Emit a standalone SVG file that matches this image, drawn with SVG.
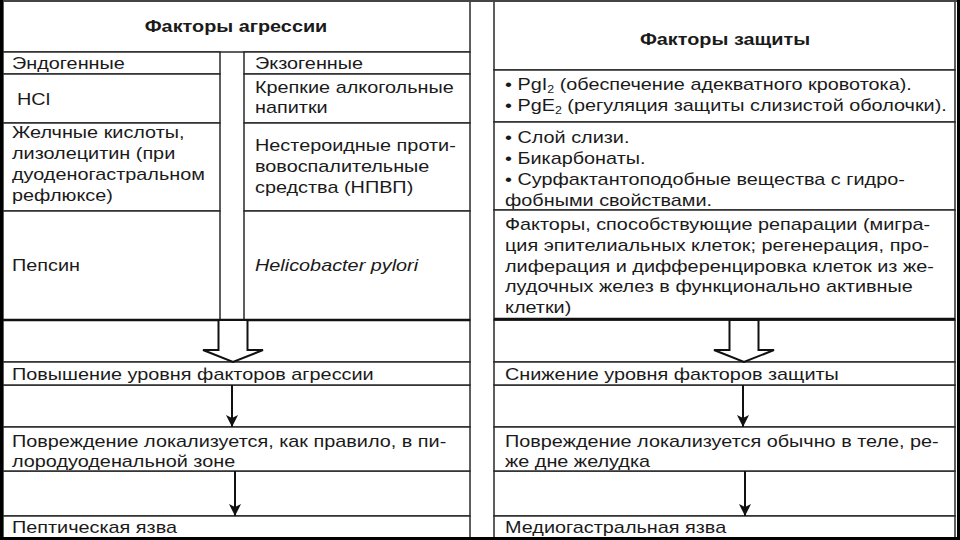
<svg xmlns="http://www.w3.org/2000/svg" width="960" height="540" viewBox="0 0 960 540">
<defs>
<style>
.cell{fill:#fff;stroke:#2a2a2a;stroke-width:1.5}
.grid{fill:#fff;stroke:#2a2a2a;stroke-width:1.5}
text{font-family:"Liberation Sans",Arial,sans-serif;font-size:16px;fill:#1a1a1a}
.b{font-weight:bold}
.i{font-style:italic}
.sub{font-size:10px}
.conn{stroke:#111;stroke-width:2;fill:none}
.hollow{fill:#fff;stroke:#111;stroke-width:2;stroke-linejoin:miter}
</style>
<marker id="ah" viewBox="0 0 12 12" refX="12" refY="6" markerWidth="12" markerHeight="12" markerUnits="userSpaceOnUse" orient="auto">
<path d="M0,0 L12,6 L0,12 L3,6 z" fill="#111"/>
</marker>
<path id="hollowArrow" d="M-14.5,0 L14.5,0 L14.5,30 L30,30 L0,42 L-30,30 L-14.5,30 Z"/>
</defs>
<rect x="0" y="0" width="960" height="540" fill="#fff"/>

<!-- Left table grid -->
<g id="left-grid">
<rect class="grid" x="3" y="320" width="467" height="42"/>
<rect class="grid" x="3" y="385" width="467" height="42"/>
<rect class="grid" x="3" y="471" width="467" height="45"/>
</g>
<!-- Right table grid -->
<g id="right-grid">
<rect class="grid" x="494" y="320" width="461" height="42"/>
<rect class="grid" x="494" y="385" width="461" height="42"/>
<rect class="grid" x="494" y="471" width="461" height="45"/>
</g>

<g id="agg-header"><rect class="cell" x="3" y="1" width="467" height="51"/>
<text class="b" text-anchor="middle" transform="translate(236 32) scale(1.24 1)">Факторы агрессии</text></g>
<g id="endo-label"><rect class="cell" x="3" y="52" width="217" height="22"/>
<text transform="translate(12 69) scale(1.24 1)">Эндогенные</text></g>
<g id="exo-label"><rect class="cell" x="244" y="52" width="226" height="22"/>
<text transform="translate(255 69) scale(1.24 1)">Экзогенные</text></g>
<g id="hcl"><rect class="cell" x="3" y="74" width="217" height="49"/>
<text transform="translate(17 105) scale(1.24 1)">HCl</text></g>
<g id="alcohol"><rect class="cell" x="244" y="74" width="226" height="49"/>
<text transform="translate(255 93) scale(1.24 1)">Крепкие алкогольные<tspan x="0" dy="20.5">напитки</tspan></text></g>
<g id="bile"><rect class="cell" x="3" y="123" width="217" height="88"/>
<text transform="translate(12 138) scale(1.24 1)">Желчные кислоты,<tspan x="0" dy="21">лизолецитин (при</tspan><tspan x="0" dy="21">дуоденогастральном</tspan><tspan x="0" dy="21">рефлюксе)</tspan></text></g>
<g id="nsaid"><rect class="cell" x="244" y="123" width="226" height="88"/>
<text transform="translate(255 151) scale(1.24 1)">Нестероидные проти-<tspan x="0" dy="21">вовоспалительные</tspan><tspan x="0" dy="21">средства (НПВП)</tspan></text></g>
<g id="pepsin"><rect class="cell" x="3" y="211" width="217" height="109"/>
<text transform="translate(12 271) scale(1.24 1)">Пепсин</text></g>
<g id="hpylori"><rect class="cell" x="244" y="211" width="226" height="109"/>
<text class="i" transform="translate(255 271) scale(1.24 1)">Helicobacter pylori</text></g>
<g id="agg-increase"><rect class="cell" x="3" y="362" width="467" height="23"/>
<text transform="translate(12 380) scale(1.24 1)">Повышение уровня факторов агрессии</text></g>
<g id="agg-damage"><rect class="cell" x="3" y="427" width="467" height="44"/>
<text transform="translate(12 447) scale(1.24 1)">Повреждение локализуется, как правило, в пи-<tspan x="0" dy="20">лородуоденальной зоне</tspan></text></g>
<g id="peptic-ulcer"><rect class="cell" x="3" y="516" width="467" height="23"/>
<text transform="translate(12 533) scale(1.24 1)">Пептическая язва</text></g>

<g id="def-header"><rect class="cell" x="494" y="1" width="461" height="69"/>
<text class="b" text-anchor="middle" transform="translate(725 45) scale(1.24 1)">Факторы защиты</text></g>
<g id="prostaglandins"><rect class="cell" x="494" y="70" width="461" height="52"/>
<text transform="translate(505 90) scale(1.24 1)">• PgI<tspan class="sub" dy="3">2</tspan><tspan dy="-3"> (обеспечение адекватного кровотока).</tspan><tspan x="0" dy="21">• PgE</tspan><tspan class="sub" dy="3">2</tspan><tspan dy="-3"> (регуляция защиты слизистой оболочки).</tspan></text></g>
<g id="mucus"><rect class="cell" x="494" y="122" width="461" height="88"/>
<text transform="translate(505 143) scale(1.24 1)">• Слой слизи.<tspan x="0" dy="21">• Бикарбонаты.</tspan><tspan x="0" dy="21">• Сурфактантоподобные вещества с гидро-</tspan><tspan x="0" dy="21">фобными свойствами.</tspan></text></g>
<g id="repair"><rect class="cell" x="494" y="210" width="461" height="110"/>
<text transform="translate(505 230) scale(1.24 1)">Факторы, способствующие репарации (мигра-<tspan x="0" dy="20.8">ция эпителиальных клеток; регенерация, про-</tspan><tspan x="0" dy="20.8">лиферация и дифференцировка клеток из же-</tspan><tspan x="0" dy="20.8">лудочных желез в функционально активные</tspan><tspan x="0" dy="20.8">клетки)</tspan></text></g>
<g id="def-decrease"><rect class="cell" x="494" y="362" width="461" height="23"/>
<text transform="translate(505 380) scale(1.24 1)">Снижение уровня факторов защиты</text></g>
<g id="def-damage"><rect class="cell" x="494" y="427" width="461" height="44"/>
<text transform="translate(505 447) scale(1.24 1)">Повреждение локализуется обычно в теле, ре-<tspan x="0" dy="20">же дне желудка</tspan></text></g>
<g id="medio-ulcer"><rect class="cell" x="494" y="516" width="461" height="23"/>
<text transform="translate(505 533) scale(1.24 1)">Медиогастральная язва</text></g>

<g id="connectors">
<line x1="3" y1="320" x2="470" y2="320" stroke="#111" stroke-width="2.5"/>
<line x1="494" y1="319" x2="955" y2="319" stroke="#111" stroke-width="2.5"/>
<use href="#hollowArrow" class="hollow" transform="translate(233 320)"/>
<use href="#hollowArrow" class="hollow" transform="translate(744 320)"/>
<line class="conn" x1="232" y1="385" x2="232" y2="427" marker-end="url(#ah)"/>
<line class="conn" x1="235" y1="471" x2="235" y2="516" marker-end="url(#ah)"/>
<line class="conn" x1="743" y1="385" x2="743" y2="427" marker-end="url(#ah)"/>
<line class="conn" x1="745" y1="471" x2="745" y2="516" marker-end="url(#ah)"/>
</g>

<g id="frame">
<rect x="0" y="0" width="960" height="2" fill="#444"/>
<rect x="0" y="0" width="3" height="540" fill="#000"/>
<rect x="0" y="537" width="960" height="3" fill="#000"/>
<rect x="957" y="0" width="3" height="540" fill="#000"/>
</g>
</svg>
